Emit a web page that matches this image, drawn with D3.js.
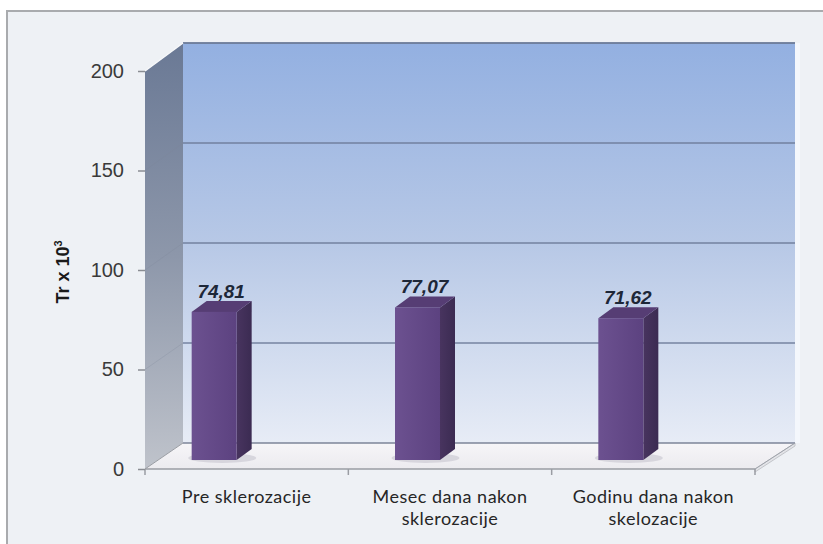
<!DOCTYPE html>
<html><head><meta charset="utf-8">
<script src="https://cdn.jsdelivr.net/npm/d3@7"></script>
<style>html,body{margin:0;padding:0;background:#fff;}svg{display:block;}</style>
</head><body>
<svg id="chart" width="823" height="544"></svg>
<script>
const categories = [["Pre sklerozacije"], ["Mesec dana nakon", "sklerozacije"], ["Godinu dana nakon", "skelozacije"]];
const categoryKeys = ["Pre sklerozacije", "Mesec dana nakon sklerozacije", "Godinu dana nakon skelozacije"];
const values = [74.81, 77.07, 71.62];
const valueLabels = ["74,81", "77,07", "71,62"];
const yTicks = [0, 50, 100, 150, 200];

const svg = d3.select("#chart");
const defs = svg.append("defs");

function lin(id, x2, y2, stops) {
  const g = defs.append("linearGradient").attr("id", id).attr("x1", 0).attr("y1", 0).attr("x2", x2).attr("y2", y2);
  stops.forEach(s => g.append("stop").attr("offset", s[0]).attr("stop-color", s[1]));
}
lin("backG", 0, 1, [[0, "#93b0e1"], [0.5, "#b7c8e6"], [1, "#e7ecf6"]]);
lin("leftG", 0, 1, [[0, "#6a7995"], [0.5, "#8d97aa"], [1, "#bfc3cb"]]);
lin("floorG", 0, 1, [[0, "#f6f5f8"], [1, "#ecebef"]]);
lin("barFront", 1, 0, [[0, "#6c5190"], [1, "#5c4280"]]);
lin("barSide", 1, 0, [[0, "#48345f"], [1, "#3b2b52"]]);

// frame
svg.append("rect").attr("x", 7).attr("y", 11).attr("width", 830).attr("height", 540)
  .attr("fill", "#eef1f5").attr("stroke", "#a9abae").attr("stroke-width", 2);

// scales
const x = d3.scaleBand().domain(categoryKeys).range([145, 755]).padding(0);
const yFront = d3.scaleLinear().domain([0, 200]).range([469, 71]);
const yBack = d3.scaleLinear().domain([0, 200]).range([443, 43]);
const yBar = d3.scaleLinear().domain([0, 200]).range([460, 64]);
const DX = 38, DY = -26;   // wall depth
const bdx = 15, bdy = -11, bw = 45;

const xFront0 = x.range()[0], xFront1 = x.range()[1];
const xBack0 = xFront0 + DX, xBack1 = xFront1 + DX + 2;

// back wall
svg.append("rect").attr("x", xBack0).attr("y", yBack(200)).attr("width", xBack1 - xBack0).attr("height", yBack(0) - yBack(200))
  .attr("fill", "url(#backG)");
svg.append("rect").attr("x", xBack1).attr("y", yBack(200)).attr("width", 5).attr("height", yBack(0) - yBack(200))
  .attr("fill", "#f4f7fc");
// gridlines on back wall
svg.append("g").selectAll("line").data(yTicks.filter(t => t > 0)).join("line")
  .attr("x1", xBack0).attr("x2", xBack1).attr("y1", d => yBack(d)).attr("y2", d => yBack(d))
  .attr("stroke", "#6c7b98").attr("stroke-width", d => d === 200 ? 2 : 1.5).attr("opacity", 0.9);

// left wall
svg.append("path")
  .attr("d", `M${xFront0},${yFront(200)} L${xBack0},${yBack(200)} L${xBack0},${yBack(0)} L${xFront0},${yFront(0)} Z`)
  .attr("fill", "url(#leftG)");
svg.append("line").attr("x1", xFront0).attr("y1", yFront(200)).attr("x2", xBack0).attr("y2", yBack(200))
  .attr("stroke", "#f7f8fa").attr("stroke-width", 1.5);
svg.append("g").selectAll("line").data(yTicks.filter(t => t > 0 && t < 200)).join("line")
  .attr("x1", xFront0).attr("x2", xBack0).attr("y1", d => yFront(d)).attr("y2", d => yBack(d))
  .attr("stroke", "#7d8699").attr("stroke-width", 1).attr("opacity", 0.25);

// floor
svg.append("path")
  .attr("d", `M${xFront0},${yFront(0)} L${xBack0},${yBack(0)} L${xBack1},${yBack(0)} L${xFront1},${yFront(0)} Z`)
  .attr("fill", "url(#floorG)");
svg.append("path")
  .attr("d", `M${xFront1},${yFront(0)} L${xBack1},${yBack(0)} L${xBack1},${yBack(0)+3} L${xFront1},${yFront(0)+3} Z`)
  .attr("fill", "#e3e4e8").attr("stroke", "#b9bbc0").attr("stroke-width", 0.8);
svg.append("line").attr("x1", xBack0).attr("x2", xBack1).attr("y1", yBack(0)).attr("y2", yBack(0))
  .attr("stroke", "#7d8599").attr("stroke-width", 1.5);
svg.append("line").attr("x1", xFront1).attr("x2", xBack1).attr("y1", yFront(0)).attr("y2", yBack(0))
  .attr("stroke", "#9fa3ab").attr("stroke-width", 1);
svg.append("line").attr("x1", xFront0).attr("x2", xFront1).attr("y1", yFront(0)).attr("y2", yFront(0))
  .attr("stroke", "#9a9da3").attr("stroke-width", 1.5);
svg.append("line").attr("x1", xFront0).attr("x2", xBack0).attr("y1", yFront(0)).attr("y2", yBack(0))
  .attr("stroke", "#9a9da3").attr("stroke-width", 1);

// category ticks
svg.append("g").selectAll("line").data(categoryKeys.map(c => x(c)).concat([xFront1])).join("line")
  .attr("x1", d => d).attr("x2", d => d).attr("y1", yFront(0)).attr("y2", yFront(0) + 6)
  .attr("stroke", "#9a9da3").attr("stroke-width", 1.5);

// y axis
const yAxis = d3.axisLeft(yFront).tickValues(yTicks).tickSize(7).tickPadding(14);
const ya = svg.append("g").attr("transform", `translate(${xFront0},0)`).call(yAxis);
ya.select(".domain").remove();
ya.selectAll(".tick line").attr("stroke", "#8a8d93").attr("stroke-width", 1.5);
ya.selectAll(".tick text").attr("font-family", "'Liberation Sans', Arial, sans-serif").attr("font-size", 20).attr("fill", "#3a3a3a");

// y title
const yt = svg.append("text").attr("transform", "translate(69,272) rotate(-90)").attr("text-anchor", "middle")
  .attr("font-family", "'Liberation Sans', Arial, sans-serif").attr("font-size", 18).attr("font-weight", "bold").attr("fill", "#1a1a1a");
yt.append("tspan").text("Tr x 10");
yt.append("tspan").attr("font-size", 11).attr("dy", -7).text("3");

// bars
const bars = svg.append("g");
categoryKeys.forEach((c, i) => {
  const x0 = x(c) + x.bandwidth() / 2 - 55;
  const yt0 = yBar(values[i]), yb = yBar(0);
  const g = bars.append("g");
  g.append("ellipse").attr("cx", x0 + bw / 2 + 8).attr("cy", yb - 2).attr("rx", 34).attr("ry", 5)
    .attr("fill", "#c7c5cf").attr("opacity", 0.6);
  g.append("path").attr("d", `M${x0 + bw},${yt0} L${x0 + bw + bdx},${yt0 + bdy} L${x0 + bw + bdx},${yb + bdy} L${x0 + bw},${yb} Z`)
    .attr("fill", "url(#barSide)");
  g.append("path").attr("d", `M${x0},${yt0} L${x0 + bdx},${yt0 + bdy} L${x0 + bw + bdx},${yt0 + bdy} L${x0 + bw},${yt0} Z`)
    .attr("fill", "#563d74");
  g.append("rect").attr("x", x0).attr("y", yt0).attr("width", bw).attr("height", yb - yt0).attr("fill", "url(#barFront)");
  svg.append("text").attr("x", x0 + bw / 2 + 7).attr("y", yt0 - 14).attr("text-anchor", "middle")
    .attr("font-family", "'Liberation Sans', Arial, sans-serif").attr("font-size", 19).attr("font-weight", "bold")
    .attr("font-style", "italic").attr("fill", "#1d2738").text(valueLabels[i]);
});

// category labels
categoryKeys.forEach((c, i) => {
  const t = svg.append("text").attr("text-anchor", "middle")
    .attr("font-family", "Lato, 'Open Sans', sans-serif").attr("font-size", 18).attr("letter-spacing", 0.5).attr("fill", "#262626");
  categories[i].forEach((line, j) => {
    t.append("tspan").attr("x", x(c) + x.bandwidth() / 2).attr("y", 503 + j * 22).text(line);
  });
});
</script>
</body></html>
